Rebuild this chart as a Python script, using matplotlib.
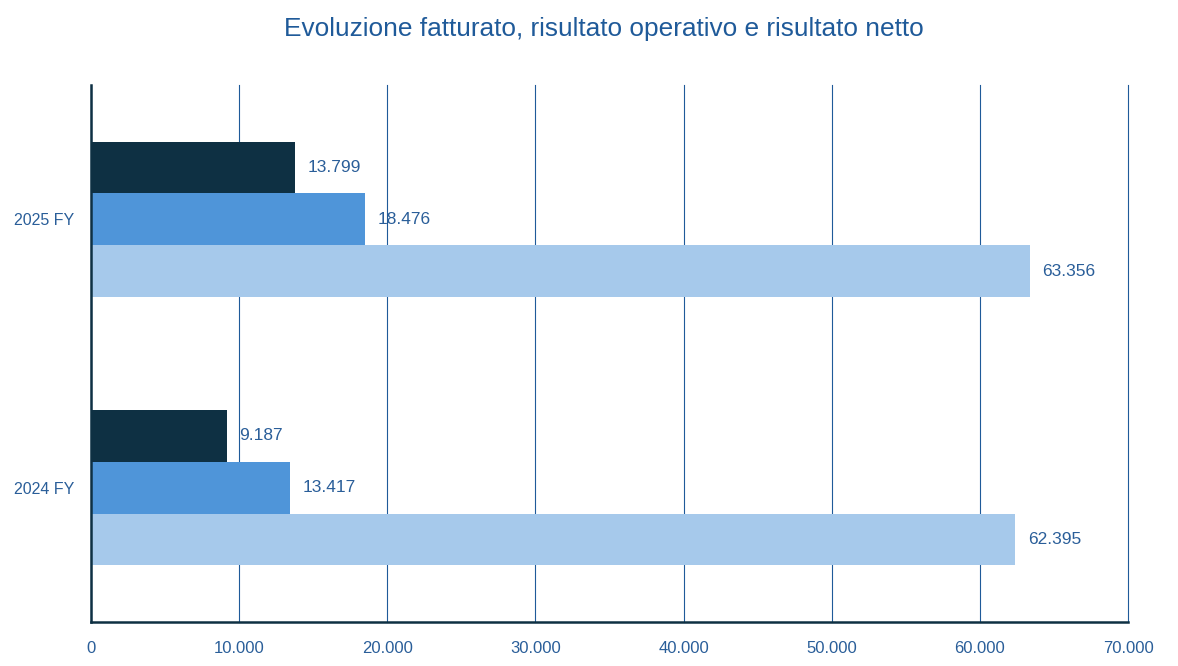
import matplotlib.pyplot as plt
import matplotlib.ticker as mticker
import numpy as np

plt.rcParams['font.family'] = ['Liberation Sans', 'DejaVu Sans']

# dati
categorie = ['2024 FY', '2025 FY']
risultato_netto = [9187, 13799]
risultato_operativo = [13417, 18476]
fatturato = [62395, 63356]

col_netto = '#0E3043'
col_oper = '#4F95D9'
col_fatt = '#A6C9EB'
col_testo = '#2A5E99'

fig = plt.figure(figsize=(11.78, 6.66), dpi=100)
ax = fig.add_axes([0.0772, 0.0661, 0.8804, 0.8063])

y = np.arange(len(categorie))
h = 0.193

b1 = ax.barh(y + h, risultato_netto, height=h, color=col_netto, zorder=3)
b2 = ax.barh(y, risultato_operativo, height=h, color=col_oper, zorder=3)
b3 = ax.barh(y - h, fatturato, height=h, color=col_fatt, zorder=3)

def fmt(v):
    return f'{v:,.0f}'.replace(',', '.')

for bars in (b1, b2, b3):
    ax.bar_label(bars, labels=[fmt(b.get_width()) for b in bars], padding=9,
                 color=col_testo, fontsize=12.5)

ax.set_xlim(0, 70000)
ax.set_ylim(-0.5, 1.5)
ax.set_xticks(np.arange(0, 70001, 10000))
ax.xaxis.set_major_formatter(mticker.FuncFormatter(lambda v, p: fmt(v)))
ax.set_yticks(y)
ax.set_yticklabels(categorie)
ax.tick_params(axis='both', length=0, colors=col_testo, labelsize=12)
ax.tick_params(axis='x', pad=14)
ax.tick_params(axis='y', pad=12, labelsize=11.5)

ax.grid(axis='x', color='#1F5A99', linewidth=0.8, zorder=0)
for gl in ax.get_xgridlines():
    gl.set_clip_on(False)
for s in ('top', 'right'):
    ax.spines[s].set_visible(False)
for s in ('left', 'bottom'):
    ax.spines[s].set_color(col_netto)
    ax.spines[s].set_linewidth(1.8)
    ax.spines[s].set_zorder(4)

fig.text(0.513, 0.956, 'Evoluzione fatturato, risultato operativo e risultato netto',
         ha='center', va='center', color='#1F5A99', fontsize=18.9)

fig.savefig('out.png', dpi=100)
